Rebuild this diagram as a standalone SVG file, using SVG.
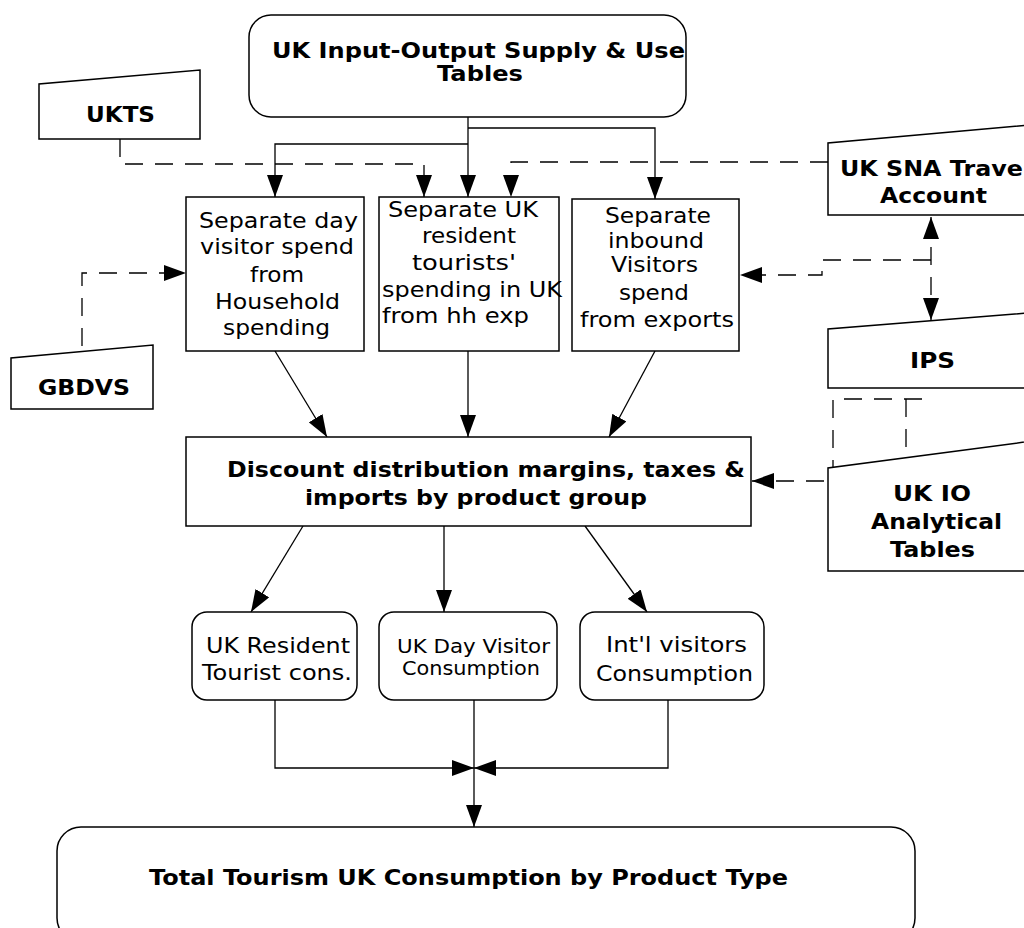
<svg xmlns="http://www.w3.org/2000/svg" width="1024" height="928" viewBox="0 0 1024 928">
<style>
  .shape { fill: #fff; stroke: #000; stroke-width: 1.5; }
  .t { font-family: "DejaVu Sans", Verdana, sans-serif; font-size: 21px; fill: #000; }
  .ts { font-family: "DejaVu Sans", Verdana, sans-serif; font-size: 19px; fill: #000; }
  .b { font-family: "DejaVu Sans", Verdana, sans-serif; font-size: 22px; font-weight: bold; fill: #000; }
  .line { fill: none; stroke: #000; stroke-width: 1.3; }
  .dash { fill: none; stroke: #000; stroke-width: 1.3; stroke-dasharray: 18 12; }
</style>
<defs>
  <marker id="arr" markerUnits="userSpaceOnUse" markerWidth="22" markerHeight="16" refX="22" refY="8" orient="auto-start-reverse" viewBox="0 0 22 16">
    <path d="M0,0 L22,8 L0,16 Z" fill="#000"/>
  </marker>
</defs>
<rect width="1024" height="928" fill="#fff"/>

<g id="connectors">
  <path class="line" d="M468,117 V197" marker-end="url(#arr)"/>
  <path class="line" d="M468,144 H275 V197" marker-end="url(#arr)"/>
  <path class="line" d="M468,128 H655 V199" marker-end="url(#arr)"/>
  <path class="dash" d="M120,139 V164 H424 V197" marker-end="url(#arr)"/>
  <path class="dash" d="M828,162 H511 V197" marker-end="url(#arr)"/>
  <path class="dash" d="M82,346 V273 H186" marker-end="url(#arr)"/>
  <path class="dash" d="M931,217 V320" marker-start="url(#arr)" marker-end="url(#arr)"/>
  <path class="dash" d="M931,260 H822 V275 H740" marker-end="url(#arr)"/>
  <path class="dash" d="M922,399 H833 V481 H752" marker-end="url(#arr)"/>
  <path class="dash" d="M906,399 V453"/>
  <path class="line" d="M275,351 L327,437" marker-end="url(#arr)"/>
  <path class="line" d="M468,351 V437" marker-end="url(#arr)"/>
  <path class="line" d="M655,351 L609,437" marker-end="url(#arr)"/>
  <path class="line" d="M303,526 L251,612" marker-end="url(#arr)"/>
  <path class="line" d="M444,526 V612" marker-end="url(#arr)"/>
  <path class="line" d="M585,526 L647,612" marker-end="url(#arr)"/>
  <path class="line" d="M275,700 V768 H474" marker-end="url(#arr)"/>
  <path class="line" d="M668,700 V768 H474" marker-end="url(#arr)"/>
  <path class="line" d="M474,700 V827" marker-end="url(#arr)"/>
</g>

<g id="io-tables">
  <rect class="shape" x="249" y="15" width="437" height="102" rx="22"/>
  <text class="b" x="272" y="58" textLength="413" lengthAdjust="spacingAndGlyphs">UK Input-Output Supply &amp; Use</text>
  <text class="b" x="437" y="81" textLength="86" lengthAdjust="spacingAndGlyphs">Tables</text>
</g>

<g id="ukts">
  <path class="shape" d="M39,139 V84 L200,70 V139 Z"/>
  <text class="b" x="86" y="122" textLength="69" lengthAdjust="spacingAndGlyphs">UKTS</text>
</g>

<g id="gbdvs">
  <path class="shape" d="M11,409 V358 L153,345 V409 Z"/>
  <text class="b" x="38" y="395" textLength="92" lengthAdjust="spacingAndGlyphs">GBDVS</text>
</g>

<g id="sna">
  <path class="shape" d="M828,215 V143 L1040,124 V215 Z"/>
  <text class="b" x="840" y="176" textLength="191" lengthAdjust="spacingAndGlyphs">UK SNA Travel</text>
  <text class="b" x="880" y="203" textLength="107" lengthAdjust="spacingAndGlyphs">Account</text>
</g>

<g id="ips">
  <path class="shape" d="M828,388 V329 L1040,312 V388 Z"/>
  <text class="b" x="910" y="368" textLength="45" lengthAdjust="spacingAndGlyphs">IPS</text>
</g>

<g id="io-analytical">
  <path class="shape" d="M828,571 V468 L1040,440 V571 Z"/>
  <text class="b" x="893" y="501" textLength="78" lengthAdjust="spacingAndGlyphs">UK IO</text>
  <text class="b" x="871" y="529" textLength="131" lengthAdjust="spacingAndGlyphs">Analytical</text>
  <text class="b" x="890" y="557" textLength="85" lengthAdjust="spacingAndGlyphs">Tables</text>
</g>

<g id="day-visitor">
  <rect class="shape" x="186" y="197" width="178" height="154"/>
  <text class="t" x="199" y="228" textLength="159" lengthAdjust="spacingAndGlyphs">Separate day</text>
  <text class="t" x="200" y="254" textLength="154" lengthAdjust="spacingAndGlyphs">visitor spend</text>
  <text class="t" x="250" y="282" textLength="54" lengthAdjust="spacingAndGlyphs">from</text>
  <text class="t" x="215" y="309" textLength="125" lengthAdjust="spacingAndGlyphs">Household</text>
  <text class="t" x="223" y="335" textLength="107" lengthAdjust="spacingAndGlyphs">spending</text>
</g>

<g id="resident-tourists">
  <rect class="shape" x="379" y="197" width="180" height="154"/>
  <text class="t" x="388" y="217" textLength="150" lengthAdjust="spacingAndGlyphs">Separate UK</text>
  <text class="t" x="422" y="243" textLength="94" lengthAdjust="spacingAndGlyphs">resident</text>
  <text class="t" x="412" y="270" textLength="104" lengthAdjust="spacingAndGlyphs">tourists'</text>
  <text class="t" x="382" y="297" textLength="180" lengthAdjust="spacingAndGlyphs">spending in UK</text>
  <text class="t" x="382" y="323" textLength="147" lengthAdjust="spacingAndGlyphs">from hh exp</text>
</g>

<g id="inbound">
  <rect class="shape" x="572" y="199" width="167" height="152"/>
  <text class="t" x="605" y="223" textLength="106" lengthAdjust="spacingAndGlyphs">Separate</text>
  <text class="t" x="608" y="248" textLength="96" lengthAdjust="spacingAndGlyphs">inbound</text>
  <text class="t" x="611" y="272" textLength="87" lengthAdjust="spacingAndGlyphs">Visitors</text>
  <text class="t" x="619" y="300" textLength="70" lengthAdjust="spacingAndGlyphs">spend</text>
  <text class="t" x="580" y="327" textLength="154" lengthAdjust="spacingAndGlyphs">from exports</text>
</g>

<g id="discount">
  <rect class="shape" x="186" y="437" width="565" height="89"/>
  <text class="b" x="227" y="477" textLength="518" lengthAdjust="spacingAndGlyphs">Discount distribution margins, taxes &amp;</text>
  <text class="b" x="305" y="505" textLength="342" lengthAdjust="spacingAndGlyphs">imports by product group</text>
</g>

<g id="resident-cons">
  <rect class="shape" x="192" y="612" width="165" height="88" rx="15"/>
  <text class="t" x="206" y="653" textLength="144" lengthAdjust="spacingAndGlyphs">UK Resident</text>
  <text class="t" x="202" y="680" textLength="150" lengthAdjust="spacingAndGlyphs">Tourist cons.</text>
</g>

<g id="day-cons">
  <rect class="shape" x="379" y="612" width="178" height="88" rx="15"/>
  <text class="ts" x="397" y="653" textLength="153" lengthAdjust="spacingAndGlyphs">UK Day Visitor</text>
  <text class="ts" x="402" y="675" textLength="138" lengthAdjust="spacingAndGlyphs">Consumption</text>
</g>

<g id="intl-cons">
  <rect class="shape" x="580" y="612" width="184" height="88" rx="15"/>
  <text class="t" x="606" y="652" textLength="141" lengthAdjust="spacingAndGlyphs">Int'l visitors</text>
  <text class="t" x="596" y="681" textLength="157" lengthAdjust="spacingAndGlyphs">Consumption</text>
</g>

<g id="total">
  <rect class="shape" x="57" y="827" width="858" height="115" rx="24"/>
  <text class="b" x="149" y="885" textLength="639" lengthAdjust="spacingAndGlyphs">Total Tourism UK Consumption by Product Type</text>
</g>
</svg>
